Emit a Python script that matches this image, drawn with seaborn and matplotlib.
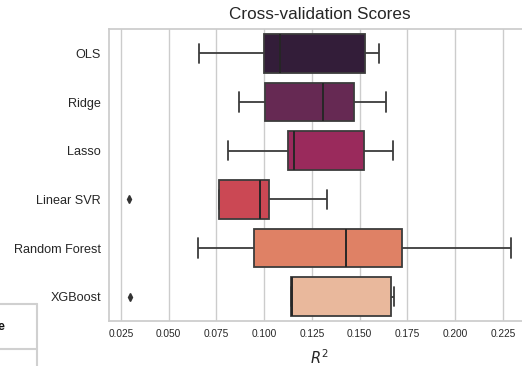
import numpy as np
import pandas as pd
import matplotlib
matplotlib.use("Agg")
import matplotlib.pyplot as plt
from matplotlib.lines import Line2D
import seaborn as sns

# Five cross-validation fold R^2 scores per model
models = ["OLS", "Ridge", "Lasso", "Linear SVR", "Random Forest", "XGBoost"]
ols_scores = [0.0658, 0.0999, 0.1083, 0.1527, 0.1604]
ridge_scores = [0.0870, 0.1006, 0.1311, 0.1470, 0.1637]
lasso_scores = [0.0809, 0.1123, 0.1158, 0.1522, 0.1677]
svr_scores = [0.0293, 0.0762, 0.0980, 0.1024, 0.1327]
rf_scores = [0.0652, 0.0948, 0.1429, 0.1722, 0.2290]
xgb_scores = [0.0299, 0.1140, 0.1147, 0.1665, 0.1680]

scores = [ols_scores, ridge_scores, lasso_scores, svr_scores, rf_scores, xgb_scores]
df = pd.DataFrame({
    "model": np.repeat(models, [len(s) for s in scores]),
    "r2": np.concatenate(scores),
})

sns.set_theme(style="whitegrid")
plt.rcParams["font.family"] = ["Liberation Sans", "DejaVu Sans"]

W, H = 522, 366
fig = plt.figure(figsize=(W / 100, H / 100), dpi=100)
# axes extends a little past the right edge of the canvas
ax = fig.add_axes([109.3 / W, 45 / H, (530 - 109.3) / W, 292 / H])

sns.boxplot(
    data=df, x="r2", y="model", order=models, hue="model", palette="rocket",
    legend=False, ax=ax, linewidth=1.3, width=0.8, linecolor="#3c3c3c",
    medianprops=dict(color="#262626", linewidth=1.4),
    flierprops=dict(marker="d", markersize=4, markerfacecolor="#333333",
                    markeredgecolor="#333333"),
)

ax.set_xlim(0.0190, 0.2392)
ax.set_ylim(5.5, -0.5)
ax.set_xticks([0.025, 0.050, 0.075, 0.100, 0.125, 0.150, 0.175, 0.200, 0.225])
ax.set_xticklabels(["0.025", "0.050", "0.075", "0.100", "0.125", "0.150",
                    "0.175", "0.200", "0.225"])
ax.tick_params(axis="x", labelsize=7.3, length=0, pad=5.5, colors="#262626")
ax.tick_params(axis="y", labelsize=9.1, length=0, pad=6, colors="#262626")
ax.set_ylabel("")
ax.set_xlabel("$R^2$", fontsize=10.5, labelpad=7, color="#262626")
ax.set_title("Cross-validation Scores", fontsize=12.3, pad=7, color="#262626")

# fragment of a neighbouring table frame at the lower left
frame_color = "#d0d0d0"
fig.add_artist(Line2D([0, 37 / W], [1 - 303.5 / H, 1 - 303.5 / H],
                      transform=fig.transFigure, color=frame_color, lw=1.5))
fig.add_artist(Line2D([0, 37 / W], [1 - 349 / H, 1 - 349 / H],
                      transform=fig.transFigure, color=frame_color, lw=1.5))
fig.add_artist(Line2D([37 / W, 37 / W], [0, 1 - 303.5 / H],
                      transform=fig.transFigure, color=frame_color, lw=1.5))
fig.text(4 / W, 1 - 327 / H, "e", ha="right", va="center", fontsize=9,
         fontweight="bold", color="#111111")

fig.savefig("out.png", dpi=100)
